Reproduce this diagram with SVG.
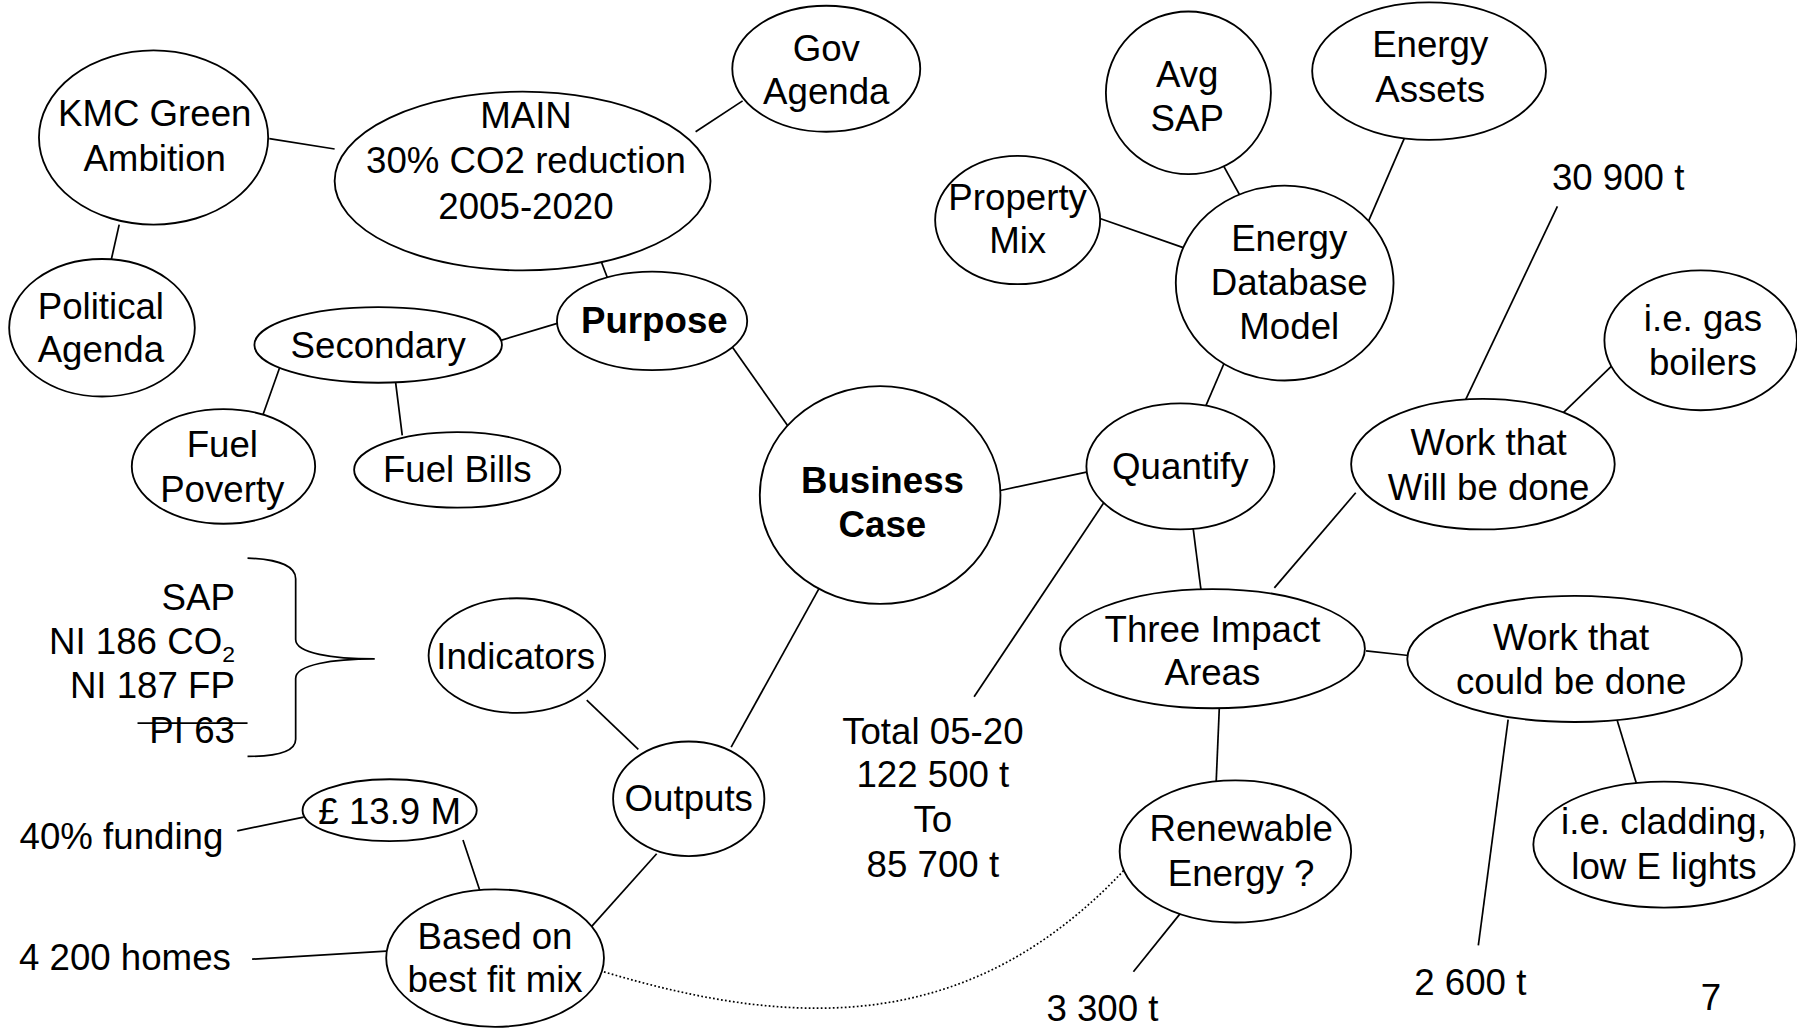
<svg xmlns="http://www.w3.org/2000/svg" width="1797" height="1031" viewBox="0 0 1797 1031">
<style>
.n{fill:#fff;stroke:#000;stroke-width:1.6}
.t{font-family:"Liberation Sans",Arial,sans-serif;font-size:32px;fill:#000;text-anchor:middle}
.b{font-weight:bold}
.e{text-anchor:end}
.c line,.c path{stroke:#000;stroke-width:1.5;fill:none}
.d{stroke-dasharray:1.5 2;stroke-width:1.3}
</style>
<rect width="1797" height="1031" fill="#fff"/>
<g transform="scale(1.146)">
<g id="connectors" class="c">
<line x1="235" y1="121" x2="292" y2="130"/>
<line x1="104" y1="196" x2="97" y2="227"/>
<line x1="607" y1="115" x2="648" y2="88"/>
<line x1="515" y1="203" x2="531" y2="245"/>
<line x1="437" y1="297" x2="487" y2="282"/>
<line x1="245" y1="318" x2="228" y2="366"/>
<line x1="345" y1="332" x2="351" y2="380"/>
<line x1="637" y1="300" x2="692" y2="378"/>
<line x1="873" y1="428" x2="948" y2="412"/>
<line x1="715" y1="513" x2="638" y2="652"/>
<line x1="512" y1="611" x2="557" y2="654"/>
<line x1="573" y1="745" x2="513" y2="812"/>
<line x1="404" y1="733" x2="420" y2="781"/>
<line x1="207" y1="725" x2="265" y2="713"/>
<line x1="220" y1="837" x2="337" y2="830"/>
<line x1="1048" y1="364" x2="1072" y2="308"/>
<line x1="958" y1="190" x2="1035" y2="217"/>
<line x1="1065" y1="140" x2="1090" y2="185"/>
<line x1="1230" y1="110" x2="1192" y2="198"/>
<line x1="963" y1="439" x2="850" y2="608"/>
<line x1="1041" y1="460" x2="1048" y2="515"/>
<line x1="1112" y1="513" x2="1183" y2="430"/>
<line x1="1275" y1="357" x2="1359" y2="180"/>
<line x1="1359" y1="365" x2="1413" y2="313"/>
<line x1="1192" y1="568" x2="1229" y2="572"/>
<line x1="1064" y1="617" x2="1061" y2="688"/>
<line x1="1030" y1="797" x2="989" y2="848"/>
<line x1="1316" y1="628" x2="1290" y2="825"/>
<line x1="1411" y1="628" x2="1428" y2="684"/>
<path class="d" d="M527,848 C700,900 850,900 983,757"/>
<path d="M216,487 C245,488 258,495 258,505 L258,558 C258,570 290,575 327,575 C290,575 258,580 258,592 L258,645 C258,655 245,660 216,660"/>
<line x1="120" y1="631" x2="216" y2="631"/>
</g>
<g id="gov"><ellipse class="n" cx="721" cy="60" rx="82" ry="55"/><text class="t" x="721" y="53">Gov</text><text class="t" x="721" y="91">Agenda</text></g>
<g id="kmc"><ellipse class="n" cx="134" cy="120" rx="100" ry="76"/><text class="t" x="135" y="110">KMC Green</text><text class="t" x="135" y="149">Ambition</text></g>
<g id="main"><ellipse class="n" cx="456" cy="158" rx="164" ry="78"/><text class="t" x="459" y="112">MAIN</text><text class="t" x="459" y="151">30% CO2 reduction</text><text class="t" x="459" y="191">2005-2020</text></g>
<g id="political"><ellipse class="n" cx="89" cy="286" rx="81" ry="60"/><text class="t" x="88" y="278">Political</text><text class="t" x="88" y="316">Agenda</text></g>
<g id="purpose"><ellipse class="n" cx="569" cy="280" rx="83" ry="43"/><text class="t b" x="571" y="291">Purpose</text></g>
<g id="secondary"><ellipse class="n" cx="330" cy="301" rx="108" ry="33"/><text class="t" x="330" y="312">Secondary</text></g>
<g id="fuelpoverty"><ellipse class="n" cx="195" cy="407" rx="80" ry="50"/><text class="t" x="194" y="399">Fuel</text><text class="t" x="194" y="438">Poverty</text></g>
<g id="fuelbills"><ellipse class="n" cx="399" cy="410" rx="90" ry="33"/><text class="t" x="399" y="421">Fuel Bills</text></g>
<g id="business"><ellipse class="n" cx="768" cy="432" rx="105" ry="95"/><text class="t b" x="770" y="430">Business</text><text class="t b" x="770" y="469">Case</text></g>
<g id="indicators"><ellipse class="n" cx="451" cy="572" rx="77" ry="50"/><text class="t" x="450" y="584">Indicators</text></g>
<g id="outputs"><ellipse class="n" cx="601" cy="697" rx="66" ry="50"/><text class="t" x="601" y="708">Outputs</text></g>
<g id="money"><ellipse class="n" cx="340" cy="707" rx="76" ry="27"/><text class="t" x="340" y="719">£ 13.9 M</text></g>
<g id="based"><ellipse class="n" cx="432" cy="836" rx="95" ry="60"/><text class="t" x="432" y="828">Based on</text><text class="t" x="432" y="866">best fit mix</text></g>
<g id="property"><ellipse class="n" cx="888" cy="192" rx="72" ry="56"/><text class="t" x="888" y="183">Property</text><text class="t" x="888" y="221">Mix</text></g>
<g id="avgsap"><ellipse class="n" cx="1037" cy="81" rx="72" ry="71"/><text class="t" x="1036" y="76">Avg</text><text class="t" x="1036" y="114">SAP</text></g>
<g id="assets"><ellipse class="n" cx="1247" cy="62" rx="102" ry="60"/><text class="t" x="1248" y="50">Energy</text><text class="t" x="1248" y="89">Assets</text></g>
<g id="edm"><ellipse class="n" cx="1121" cy="247" rx="95" ry="85"/><text class="t" x="1125" y="219">Energy</text><text class="t" x="1125" y="257">Database</text><text class="t" x="1125" y="296">Model</text></g>
<g id="quantify"><ellipse class="n" cx="1030" cy="407" rx="82" ry="55"/><text class="t" x="1030" y="418">Quantify</text></g>
<g id="gas"><ellipse class="n" cx="1484" cy="297" rx="84" ry="61"/><text class="t" x="1486" y="289">i.e. gas</text><text class="t" x="1486" y="327">boilers</text></g>
<g id="workwill"><ellipse class="n" cx="1294" cy="405" rx="115" ry="57"/><text class="t" x="1299" y="397">Work that</text><text class="t" x="1299" y="436">Will be done</text></g>
<g id="three"><ellipse class="n" cx="1058" cy="566" rx="133" ry="52"/><text class="t" x="1058" y="560">Three Impact</text><text class="t" x="1058" y="598">Areas</text></g>
<g id="workcould"><ellipse class="n" cx="1374" cy="575" rx="146" ry="55"/><text class="t" x="1371" y="567">Work that</text><text class="t" x="1371" y="606">could be done</text></g>
<g id="renewable"><ellipse class="n" cx="1078" cy="743" rx="101" ry="62"/><text class="t" x="1083" y="734">Renewable</text><text class="t" x="1083" y="773">Energy ?</text></g>
<g id="cladding"><ellipse class="n" cx="1452" cy="737" rx="114" ry="55"/><text class="t" x="1452" y="728">i.e. cladding,</text><text class="t" x="1452" y="767">low E lights</text></g>
<g id="labels">
<text class="t" x="1412" y="166">30 900 t</text>
<text class="t" x="814" y="649">Total 05-20</text>
<text class="t" x="814" y="687">122 500 t</text>
<text class="t" x="814" y="726">To</text>
<text class="t" x="814" y="765">85 700 t</text>
<text class="t" x="962" y="891">3 300 t</text>
<text class="t" x="1283" y="868">2 600 t</text>
<text class="t" x="1493" y="881">7</text>
<text class="t" x="106" y="741">40% funding</text>
<text class="t" x="109" y="846">4 200 homes</text>
<text class="t e" x="205" y="532">SAP</text>
<text class="t e" x="205" y="571">NI 186 CO<tspan font-size="20" dy="7">2</tspan></text>
<text class="t e" x="205" y="609">NI 187 FP</text>
<text class="t e" x="205" y="648">PI 63</text>
</g>
</g>
</svg>
